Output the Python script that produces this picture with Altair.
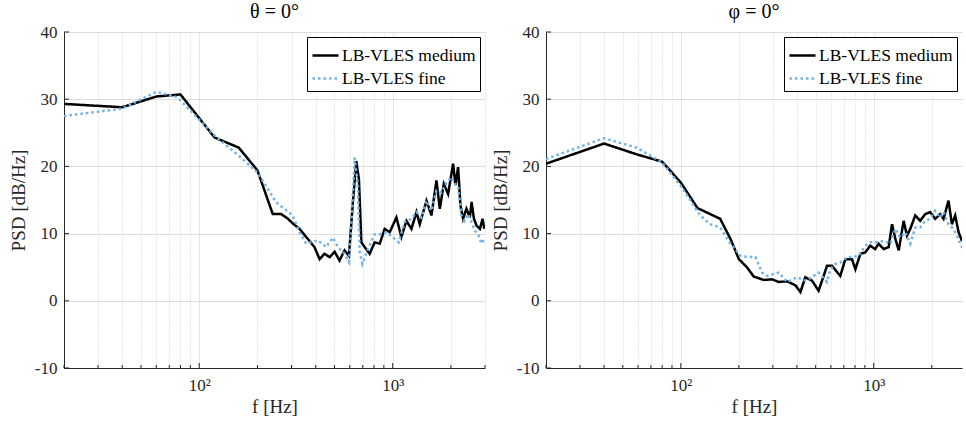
import altair as alt
import pandas as pd

FONT = "Liberation Serif"
TEXT = "#262626"
SERIES = ["LB-VLES medium", "LB-VLES fine"]
COLORS = ["#000000", "#72b2e6"]
DASHES = [[1, 0], [2.5, 3]]

# ---- theta = 0 deg panel ----
theta_medium_f = [20, 40, 60, 80, 120, 160, 200, 240, 265, 285, 305, 330, 357, 394, 419, 444,
                  472, 501, 531, 564, 594, 623, 648, 669, 689, 716, 760, 807, 857, 909, 965,
                  1045, 1109, 1178, 1250, 1327, 1380, 1495, 1586, 1683, 1752, 1837, 1934, 2052,
                  2110, 2178, 2240, 2311, 2405, 2504, 2557, 2630, 2713, 2824, 2915, 2974]
theta_medium_psd = [29.3, 28.8, 30.4, 30.7, 24.3, 22.8, 19.4, 12.9, 12.9, 12.3, 11.5, 10.7, 9.5,
                    8.0, 6.2, 7.0, 6.5, 7.3, 6.0, 7.5, 6.7, 14.7, 20.8, 18.1, 8.7, 8.0, 7.0, 8.7,
                    8.5, 10.7, 10.2, 12.4, 9.5, 11.9, 10.7, 13.2, 11.4, 14.9, 12.7, 17.9, 13.7,
                    17.4, 15.9, 20.4, 17.2, 19.9, 14.2, 12.2, 13.7, 12.4, 14.7, 12.2, 11.2, 10.7,
                    12.2, 10.7]
theta_fine_f = [20, 40, 60, 70, 77, 120, 160, 200, 221, 249, 304, 330, 357, 410, 431, 453, 491,
                521, 564, 594, 609, 636, 661, 675, 697, 745, 807, 857, 929, 1005, 1074, 1153,
                1250, 1327, 1410, 1495, 1586, 1683, 1788, 1897, 2013, 2095, 2178, 2265, 2355,
                2450, 2557, 2661, 2767, 2880, 2974]
theta_fine_psd = [27.5, 28.6, 31.1, 30.6, 30.3, 24.6, 21.6, 19.1, 17.1, 14.7, 12.7, 10.2, 8.5,
                  9.0, 8.5, 8.0, 9.4, 8.0, 7.0, 5.8, 10.2, 21.3, 17.1, 7.3, 5.5, 7.7, 9.9, 9.9,
                  10.2, 9.4, 8.7, 11.7, 12.2, 13.2, 12.4, 14.9, 13.4, 16.4, 16.1, 17.6, 18.4,
                  17.4, 17.1, 12.7, 11.9, 12.9, 11.7, 10.4, 9.9, 8.5, 9.2]

# ---- phi = 0 deg panel ----
phi_medium_f = [20, 40, 59, 80, 100, 122, 160, 181, 200, 220, 239, 269, 297, 322, 356, 393, 417,
                442, 479, 518, 573, 608, 671, 713, 772, 804, 853, 904, 959, 1018, 1060, 1127,
                1196, 1245, 1295, 1349, 1430, 1488, 1548, 1643, 1742, 1849, 1963, 2083, 2211,
                2302, 2443, 2544, 2646, 2756, 2869]
phi_medium_psd = [20.4, 23.4, 21.8, 20.7, 17.6, 13.8, 12.2, 9.2, 6.2, 5.0, 3.6, 3.1, 3.2, 2.8,
                  2.9, 2.3, 1.3, 3.5, 3.0, 1.5, 5.2, 5.2, 3.7, 6.2, 6.2, 4.7, 7.0, 7.2, 8.2, 7.7,
                  8.5, 7.7, 8.0, 11.4, 9.2, 7.5, 11.9, 9.7, 10.7, 12.7, 11.9, 12.9, 13.2, 12.2,
                  12.9, 12.2, 14.9, 11.4, 12.7, 10.2, 8.9]
phi_fine_f = [20, 40, 59, 80, 100, 126, 142, 160, 181, 204, 225, 244, 264, 280, 303, 322, 356,
              401, 442, 479, 518, 573, 596, 633, 671, 728, 772, 836, 904, 959, 1040, 1127, 1220,
              1295, 1374, 1459, 1548, 1643, 1742, 1849, 1963, 2083, 2211, 2302, 2443, 2595,
              2700, 2813, 2900]
phi_fine_psd = [21.1, 24.2, 22.8, 20.6, 17.1, 12.7, 11.4, 10.9, 8.5, 6.7, 6.5, 6.5, 4.2, 3.7,
                4.0, 4.2, 2.8, 3.5, 3.0, 3.5, 4.2, 2.8, 4.7, 5.5, 5.7, 6.5, 6.5, 6.7, 8.2, 8.7,
                8.7, 8.9, 8.5, 10.7, 9.4, 10.2, 8.5, 10.9, 10.9, 11.9, 12.2, 13.4, 12.4, 13.2,
                11.4, 10.7, 9.7, 8.5, 7.7]

X_MAJOR = [100, 1000]
X_MINOR = [20, 30, 40, 50, 60, 70, 80, 90, 200, 300, 400, 500, 600, 700, 800, 900, 2000, 3000]
Y_TICKS = [-10, 0, 10, 20, 30, 40]
H = 336


def make_panel(title, fm, vm, ff, vf, width, xmax):
    minors = [v for v in X_MINOR if v <= xmax]
    xvals = sorted(minors + X_MAJOR)
    med = pd.DataFrame({"f": fm, "psd": vm, "series": SERIES[0]})
    fin = pd.DataFrame({"f": ff, "psd": vf, "series": SERIES[1]})
    major_test = "datum.value === 100 || datum.value === 1000"
    x_enc = alt.X(
        "f:Q",
        scale=alt.Scale(type="log", domain=[20, xmax], nice=False),
        axis=alt.Axis(
            values=xvals,
            title="f  [Hz]",
            labelExpr="datum.value === 100 ? '10²' : (datum.value === 1000 ? '10³' : '')",
            grid=True,
            gridDash={"condition": {"test": major_test, "value": [1, 0]}, "value": [1, 2]},
            gridColor={"condition": {"test": major_test, "value": "#dcdcdc"}, "value": "#cfcfcf"},
            gridWidth=1,
            ticks=False,
            labelPadding=9,
            titlePadding=4,
            labelOverlap=False,
            labelFlush=False,
            labelFont=FONT, labelFontSize=17, titleFont=FONT, titleFontSize=19,
        ),
    )
    y_enc = alt.Y(
        "psd:Q",
        scale=alt.Scale(domain=[-10, 40], nice=False, zero=False),
        axis=alt.Axis(
            values=Y_TICKS,
            title="PSD [dB/Hz]",
            labelExpr="toString(datum.value)",
            grid=True,
            gridColor="#dcdcdc",
            ticks=False,
            labelPadding=7,
            titlePadding=6,
            labelFont=FONT, labelFontSize=17, titleFont=FONT, titleFontSize=19,
        ),
    )
    leg = alt.Legend(
        orient="top-right",
        title=None,
        offset=5,
        padding=4,
        strokeColor="black",
        fillColor="white",
        labelFont=FONT,
        labelFontSize=17.5,
        labelColor="black",
        symbolSize=676,
        symbolStrokeWidth=2.5,
        rowPadding=0,
        labelOffset=2,
    )
    color = alt.Color("series:N", scale=alt.Scale(domain=SERIES, range=COLORS), legend=leg)
    dash = alt.StrokeDash("series:N", scale=alt.Scale(domain=SERIES, range=DASHES), legend=leg)

    l_med = alt.Chart(med).mark_line(strokeWidth=2.5, clip=True).encode(
        x=x_enc, y=y_enc, color=color, strokeDash=dash)
    l_fin = alt.Chart(fin).mark_line(strokeWidth=2.5, clip=True).encode(
        x=x_enc, y=y_enc, color=color, strokeDash=dash)

    xt_major = pd.DataFrame({"f": X_MAJOR})
    xt_minor = pd.DataFrame({"f": minors})
    yt = pd.DataFrame({"psd": Y_TICKS})
    t_major = alt.Chart(xt_major).mark_rule(color=TEXT, strokeWidth=1).encode(
        x=x_enc, y=alt.value(H), y2=alt.value(H - 5))
    t_minor = alt.Chart(xt_minor).mark_rule(color=TEXT, strokeWidth=1).encode(
        x=x_enc, y=alt.value(H), y2=alt.value(H - 3))
    t_y = alt.Chart(yt).mark_rule(color=TEXT, strokeWidth=1).encode(
        y=y_enc, x=alt.value(0), x2=alt.value(5))

    return alt.layer(t_major, t_minor, t_y, l_med, l_fin).properties(
        width=width, height=H, title=alt.TitleParams(text=title))


left = make_panel("θ = 0°", theta_medium_f, theta_medium_psd, theta_fine_f, theta_fine_psd, 421, 3000)
right = make_panel("φ = 0°", phi_medium_f, phi_medium_psd, phi_fine_f, phi_fine_psd, 416, 2870)

chart = (
    alt.hconcat(left, right, spacing=4)
    .resolve_scale(x="independent", y="independent", color="independent", strokeDash="independent")
    .resolve_legend(color="independent", strokeDash="independent")
    .configure(padding={"left": 8, "top": 1, "right": 0, "bottom": 0}, background="white",
               font=FONT)
    .configure_axis(
        labelFont=FONT, labelFontSize=17, labelColor=TEXT,
        titleFont=FONT, titleFontSize=19, titleFontWeight="normal", titleColor=TEXT,
        domainColor=TEXT, domainWidth=1,
    )
    .configure_view(stroke="transparent")
    .configure_title(font=FONT, fontSize=20, fontWeight="normal", color="black",
                     anchor="middle", frame="group", offset=1)
)

chart.save("out.html", embed_options={"renderer": "svg", "actions": False})
